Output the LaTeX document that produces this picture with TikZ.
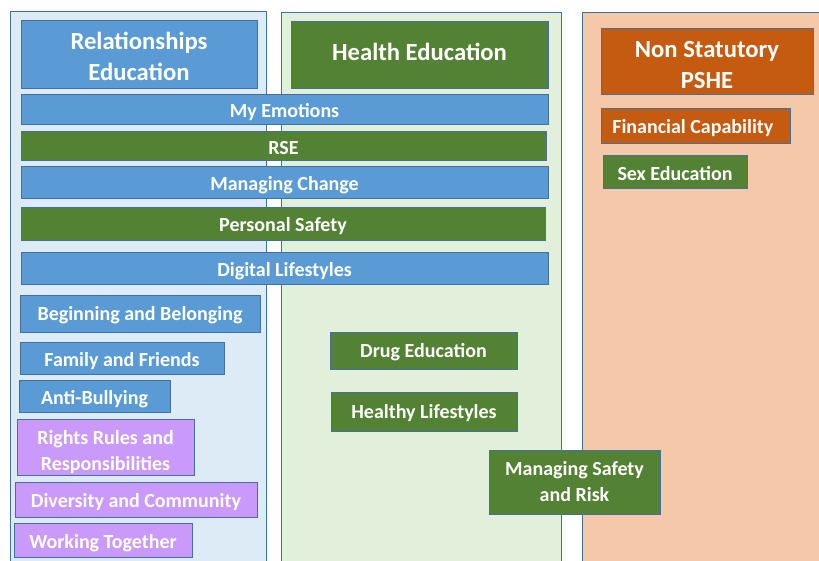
\documentclass[tikz,border=0pt]{standalone}
\usepackage{fontspec}
\setmainfont{Carlito}
\usetikzlibrary{fit}
\definecolor{edgeblue}{HTML}{41719C}
\definecolor{boxblue}{HTML}{5B9BD5}
\definecolor{boxgreen}{HTML}{548235}
\definecolor{boxorange}{HTML}{C55A11}
\definecolor{boxpurple}{HTML}{C99AFA}
\definecolor{colblue}{HTML}{DDEBF7}
\definecolor{colgreen}{HTML}{E2EFDA}
\definecolor{colpeach}{HTML}{F5C8A9}
\tikzset{
  column/.style={draw=edgeblue, line width=0.75pt, inner sep=0pt},
  box/.style={draw=edgeblue, line width=0.75pt, inner sep=0pt},
  lbl/.style={inner sep=0pt, text=white, align=center, yshift=-2.2pt,
    font=\bfseries\fontsize{15}{19.5}\selectfont},
  headlbl/.style={lbl, font=\bfseries\fontsize{18.5}{23.5}\selectfont},
  bluebox/.style={box, fill=boxblue},
  greenbox/.style={box, fill=boxgreen},
  orangebox/.style={box, fill=boxorange},
  purplebox/.style={box, fill=boxpurple},
}
\begin{document}
\begin{tikzpicture}[x=0.75pt,y=-0.75pt]
\useasboundingbox (0,0) rectangle (819,561);
\clip (0,0) rectangle (819,561);
\fill[white] (0,0) rectangle (819,561);
% columns
\node[column, fill=colblue, fit={(10,11) (266,580)}] (colrel) {};
\node[column, fill=colgreen, fit={(281,12) (561,580)}] (colhealth) {};
\node[column, fill=colpeach, fit={(582,12) (830,580)}] (colnon) {};
% headers
\node[bluebox, fit={(21,20) (257,88)}] (hrel) {};
\node[headlbl, yshift=0.2pt] at (hrel) {Relationships\\Education};
\node[greenbox, fit={(291,21) (548,88)}] (hhealth) {};
\node[headlbl, yshift=4.5pt] at (hhealth) {Health Education};
\node[orangebox, fit={(601,28) (813,94)}] (hnon) {};
\node[headlbl, yshift=-0.8pt] at (hnon) {Non Statutory\\PSHE};
% long bars
\node[bluebox, fit={(21,94) (548,124)}] (emo) {};
\node[lbl] at (emo) {My Emotions};
\node[greenbox, fit={(21,131) (546,160)}] (rse) {};
\node[lbl] at (rse) {RSE};
\node[bluebox, fit={(21,166) (548,198)}] (change) {};
\node[lbl] at (change) {Managing Change};
\node[greenbox, fit={(21,207) (545,240)}] (safety) {};
\node[lbl] at (safety) {Personal Safety};
\node[bluebox, fit={(21,252) (548,284)}] (digital) {};
\node[lbl] at (digital) {Digital Lifestyles};
% relationships column
\node[bluebox, fit={(20,295) (260,332)}] (begin) {};
\node[lbl, yshift=1pt] at (begin) {Beginning and Belonging};
\node[bluebox, fit={(20,342) (224,374)}] (family) {};
\node[lbl] at (family) {Family and Friends};
\node[bluebox, fit={(19,380) (170,412)}] (anti) {};
\node[lbl] at (anti) {Anti-Bullying};
\node[purplebox, fit={(17,419) (194,475)}] (rights) {};
\node[lbl, yshift=-1.5pt] at (rights) {Rights Rules and\\Responsibilities};
\node[purplebox, fit={(15,482) (257,517)}] (diversity) {};
\node[lbl] at (diversity) {Diversity and Community};
\node[purplebox, fit={(14,523) (192,557)}] (working) {};
\node[lbl] at (working) {Working Together};
% health column
\node[greenbox, fit={(330,332) (517,369)}] (drug) {};
\node[lbl, yshift=1.2pt] at (drug) {Drug Education};
\node[greenbox, fit={(331,392) (517,431)}] (healthy) {};
\node[lbl, yshift=1.2pt] at (healthy) {Healthy Lifestyles};
\node[greenbox, fit={(489,450) (660,514)}] (msr) {};
\node[lbl, yshift=2.2pt] at (msr) {Managing Safety\\and Risk};
% non statutory column
\node[orangebox, fit={(601,108) (790,143)}] (fin) {};
\node[lbl, xshift=-2pt] at (fin) {Financial Capability};
\node[greenbox, fit={(603,155) (747,188)}] (sex) {};
\node[lbl, yshift=1pt] at (sex) {Sex Education};
\end{tikzpicture}
\end{document}
